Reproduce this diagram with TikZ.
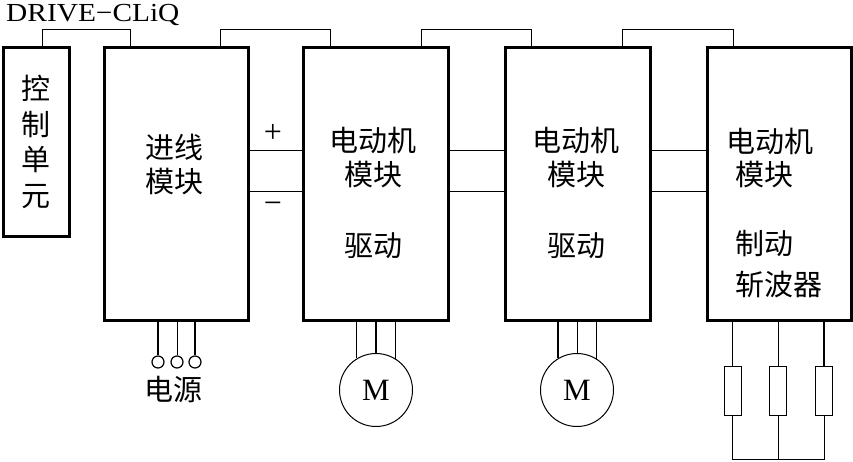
\documentclass[tikz,border=0pt]{standalone}
\usepackage{fontspec}
\setmainfont{Liberation Serif}
\newfontfamily\cjk{Noto Sans CJK SC}
\begin{document}
\begin{tikzpicture}[x=1pt,y=-1pt,
  box/.style={draw,line width=3pt,rectangle,inner sep=0pt},
  wire/.style={line width=1pt},
  zh/.style={font=\cjk\fontsize{29}{29}\selectfont,inner sep=0pt},
  lat/.style={font=\fontsize{26}{26}\selectfont,inner sep=0pt},
  sgn/.style={font=\fontsize{32}{32}\selectfont,inner sep=0pt},
  term/.style={draw,circle,line width=1.2pt,minimum size=12pt,inner sep=0pt},
  motor/.style={draw,circle,line width=1pt,minimum size=73pt,inner sep=0pt,font=\fontsize{31}{31}\selectfont},
  res/.style={draw,rectangle,line width=1pt,minimum width=17pt,minimum height=49pt,inner sep=0pt}]
\useasboundingbox (0,0) rectangle (853,461);
\fill[white] (0,0) rectangle (853,461);
% boxes
\node[box,minimum width=66pt,minimum height=189pt] (cu) at (36,141.5) {};
\node[box,minimum width=144pt,minimum height=273pt] (inf) at (176,183.5) {};
\node[box,minimum width=145pt,minimum height=273pt] (m1) at (375.5,183.5) {};
\node[box,minimum width=145pt,minimum height=273pt] (m2) at (577.5,183.5) {};
\node[box,minimum width=144pt,minimum height=273pt] (m3) at (779,183.5) {};
% DRIVE-CLiQ label
\node[lat,anchor=base west] (dcl) at (6,21) {\scalebox{1.13}[1]{DRIVE−CLiQ}};
% DRIVE-CLiQ links
\coordinate (a0) at (42,29); \coordinate (b0) at (130,29);
\coordinate (a1) at (220,29); \coordinate (b1) at (330,29);
\coordinate (a2) at (421,29); \coordinate (b2) at (531,29);
\coordinate (a3) at (622,29); \coordinate (b3) at (733,29);
\draw[wire] (cu.north -| a0) -- (a0) -- (b0) -- (inf.north -| b0);
\draw[wire] (inf.north -| a1) -- (a1) -- (b1) -- (m1.north -| b1);
\draw[wire] (m1.north -| a2) -- (a2) -- (b2) -- (m2.north -| b2);
\draw[wire] (m2.north -| a3) -- (a3) -- (b3) -- (m3.north -| b3);
% DC bus
\coordinate (bp) at (0,150); \coordinate (bm) at (0,191);
\draw[wire] (inf.east |- bp) -- (m1.west |- bp);
\draw[wire] (inf.east |- bm) -- (m1.west |- bm);
\draw[wire] (m1.east |- bp) -- (m2.west |- bp);
\draw[wire] (m1.east |- bm) -- (m2.west |- bm);
\draw[wire] (m2.east |- bp) -- (m3.west |- bp);
\draw[wire] (m2.east |- bm) -- (m3.west |- bm);
\node[sgn] (plus) at (273,133) {+};
\node[sgn] (minus) at (273,208) {−};
% texts
\node[zh] (c1) at (36,88) {控};
\node[zh] (c2) at (36,125) {制};
\node[zh] (c3) at (36,160) {单};
\node[zh] (c4) at (36,197) {元};
\node[zh] (i1) at (174,147) {进线};
\node[zh] (i2) at (174,182) {模块};
\node[zh] (t11) at (373,140) {电动机};
\node[zh] (t12) at (373,175) {模块};
\node[zh] (t13) at (373,246) {驱动};
\node[zh] (t21) at (576,140) {电动机};
\node[zh] (t22) at (576,175) {模块};
\node[zh] (t23) at (576,246) {驱动};
\node[zh,anchor=west] (t31) at (726,141) {电动机};
\node[zh,anchor=west] (t32) at (735,175) {模块};
\node[zh,anchor=west] (t33) at (735,244) {制动};
\node[zh,anchor=west] (t34) at (735,284) {斩波器};
% power terminals
\node[term] (p1) at (158,362) {};
\node[term] (p2) at (177,362) {};
\node[term] (p3) at (195,362) {};
\draw[line width=1.4pt] (p1.north) -- (inf.south -| p1);
\draw[wire] (p2.north) -- (inf.south -| p2);
\draw[line width=1.4pt] (p3.north) -- (inf.south -| p3);
\node[zh] (pw) at (173,390) {电源};
% motors
\node[motor] (M1) at (376,390) {M};
\node[motor] (M2) at (577,390) {M};
\draw[wire] (M1.121.4) -- (m1.south -| M1.121.4);
\draw[line width=1.4pt] (M1.north) -- (m1.south -| M1.north);
\draw[wire] (M1.58.6) -- (m1.south -| M1.58.6);
\draw[line width=1.4pt] (M2.121.4) -- (m2.south -| M2.121.4);
\draw[wire] (M2.north) -- (m2.south -| M2.north);
\draw[line width=1.4pt] (M2.58.6) -- (m2.south -| M2.58.6);
% braking resistors
\node[res] (R1) at (732.5,390.5) {};
\node[res] (R2) at (778,390.5) {};
\node[res] (R3) at (824,390.5) {};
\coordinate (bot) at (0,459);
\draw[wire] (R1.north) -- (m3.south -| R1.north);
\draw[wire] (R2.north) -- (m3.south -| R2.north);
\draw[line width=1.4pt] (R3.north) -- (m3.south -| R3.north);
\draw[wire] (R1.south) -- (R1.south |- bot) -- (R3.south |- bot) -- (R3.south);
\draw[wire] (R2.south) -- (R2.south |- bot);
\end{tikzpicture}
\end{document}
